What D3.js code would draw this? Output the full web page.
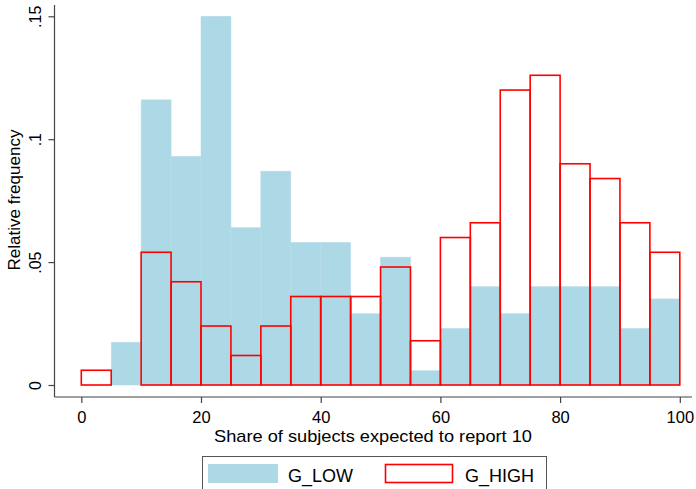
<!DOCTYPE html>
<html>
<head>
<meta charset="utf-8">
<script src="https://cdn.jsdelivr.net/npm/d3@7"></script>
<style>
  body { margin: 0; background: #fff; }
  svg { display: block; font-family: "Liberation Sans", Arial, sans-serif; }
</style>
</head>
<body>
<svg id="chart" width="696" height="489"></svg>
<script>
// Bin starts (width 5) for share of subjects expected to report 10
const binStarts = [0,5,10,15,20,25,30,35,40,45,50,55,60,65,70,75,80,85,90,95];
const binWidth = 5;
// Relative frequency, G_LOW
const lowValues = [0, 0.0174, 0.116, 0.093, 0.150, 0.064, 0.087, 0.058, 0.058, 0.029,
                   0.052, 0.0058, 0.023, 0.040, 0.029, 0.040, 0.040, 0.040, 0.023, 0.035];
// Relative frequency, G_HIGH
const highValues = [0.006, 0, 0.054, 0.042, 0.024, 0.012, 0.024, 0.036, 0.036, 0.036,
                    0.048, 0.018, 0.060, 0.066, 0.120, 0.126, 0.090, 0.084, 0.066, 0.054];
const xTicks = [0, 20, 40, 60, 80, 100];
const yTicks = [0, 0.05, 0.1, 0.15];
const yTickLabels = ["0", ".05", ".1", ".15"];
const seriesNames = ["G_LOW", "G_HIGH"];

const svg = d3.select("#chart");
const x = d3.scaleLinear().domain([0, 100]).range([81.3, 679.8]);
const y = d3.scaleLinear().domain([0, 0.15]).range([385, 16.3]);

const blue = "#ADD8E6";
const red = "#FF0000";

// Low bars (filled)
svg.append("g").selectAll("rect")
  .data(binStarts.map((b, i) => ({b, v: lowValues[i]})).filter(d => d.v > 0))
  .join("rect")
  .attr("x", d => x(d.b))
  .attr("width", d => x(d.b + binWidth) - x(d.b))
  .attr("y", d => y(d.v))
  .attr("height", d => y(0) - y(d.v))
  .attr("fill", blue)
  .attr("stroke", "#B8DDEA")
  .attr("stroke-width", 0.6);

// High bars (outlined)
svg.append("g").selectAll("rect")
  .data(binStarts.map((b, i) => ({b, v: highValues[i]})).filter(d => d.v > 0))
  .join("rect")
  .attr("x", d => x(d.b))
  .attr("width", d => x(d.b + binWidth) - x(d.b))
  .attr("y", d => y(d.v))
  .attr("height", d => y(0) - y(d.v))
  .attr("fill", "none")
  .attr("stroke", red)
  .attr("stroke-width", 1.6);

// Axes
const axisColor = "#444";
const xAxisY = 397, yAxisX = 54.5;
svg.append("line").attr("x1", yAxisX).attr("x2", 692).attr("y1", xAxisY).attr("y2", xAxisY)
  .attr("stroke", axisColor).attr("stroke-width", 1.2);
svg.append("line").attr("x1", yAxisX).attr("x2", yAxisX).attr("y1", 5).attr("y2", xAxisY)
  .attr("stroke", axisColor).attr("stroke-width", 1.2);

const xAxis = svg.append("g").attr("transform", `translate(0,${xAxisY})`)
  .call(d3.axisBottom(x).tickValues(xTicks).tickSize(6).tickSizeOuter(0));
xAxis.select(".domain").remove();
xAxis.selectAll(".tick line").attr("stroke", axisColor).attr("stroke-width", 1.2);
xAxis.selectAll(".tick text").attr("font-size", 16.5).attr("fill", "#000")
  .attr("font-family", "Liberation Sans, Arial, sans-serif")
  .attr("y", 26).attr("dy", null);

const yAxis = svg.append("g").attr("transform", `translate(${yAxisX},0)`)
  .call(d3.axisLeft(y).tickValues(yTicks).tickSize(6).tickSizeOuter(0)
    .tickFormat((d, i) => yTickLabels[i]));
yAxis.select(".domain").remove();
yAxis.selectAll(".tick line").attr("stroke", axisColor).attr("stroke-width", 1.2);
yAxis.selectAll(".tick text")
  .attr("font-size", 16).attr("fill", "#000")
  .attr("font-family", "Liberation Sans, Arial, sans-serif")
  .attr("x", null).attr("dy", null)
  .attr("text-anchor", "middle")
  .attr("transform", "translate(-14,0) rotate(-90)");

// Axis titles
svg.append("text")
  .attr("x", 373).attr("y", 442)
  .attr("text-anchor", "middle").attr("font-size", 17).attr("fill", "#000")
  .attr("textLength", 318).attr("lengthAdjust", "spacingAndGlyphs")
  .text("Share of subjects expected to report 10");
svg.append("text")
  .attr("transform", "translate(20,200) rotate(-90)")
  .attr("text-anchor", "middle").attr("font-size", 17).attr("fill", "#000")
  .text("Relative frequency");

// Legend
const leg = svg.append("g");
leg.append("rect").attr("x", 202.5).attr("y", 456.5).attr("width", 344).attr("height", 50)
  .attr("fill", "#fff").attr("stroke", "#555").attr("stroke-width", 1);
leg.append("rect").attr("x", 208).attr("y", 464).attr("width", 70).attr("height", 19)
  .attr("fill", blue);
leg.append("text").attr("x", 288).attr("y", 481.5).attr("font-size", 18).attr("fill", "#000")
  .text(seriesNames[0]);
leg.append("rect").attr("x", 385.5).attr("y", 464.5).attr("width", 67).attr("height", 18)
  .attr("fill", "none").attr("stroke", red).attr("stroke-width", 1.6);
leg.append("text").attr("x", 465).attr("y", 481.5).attr("font-size", 18).attr("fill", "#000")
  .text(seriesNames[1]);
</script>
</body>
</html>
